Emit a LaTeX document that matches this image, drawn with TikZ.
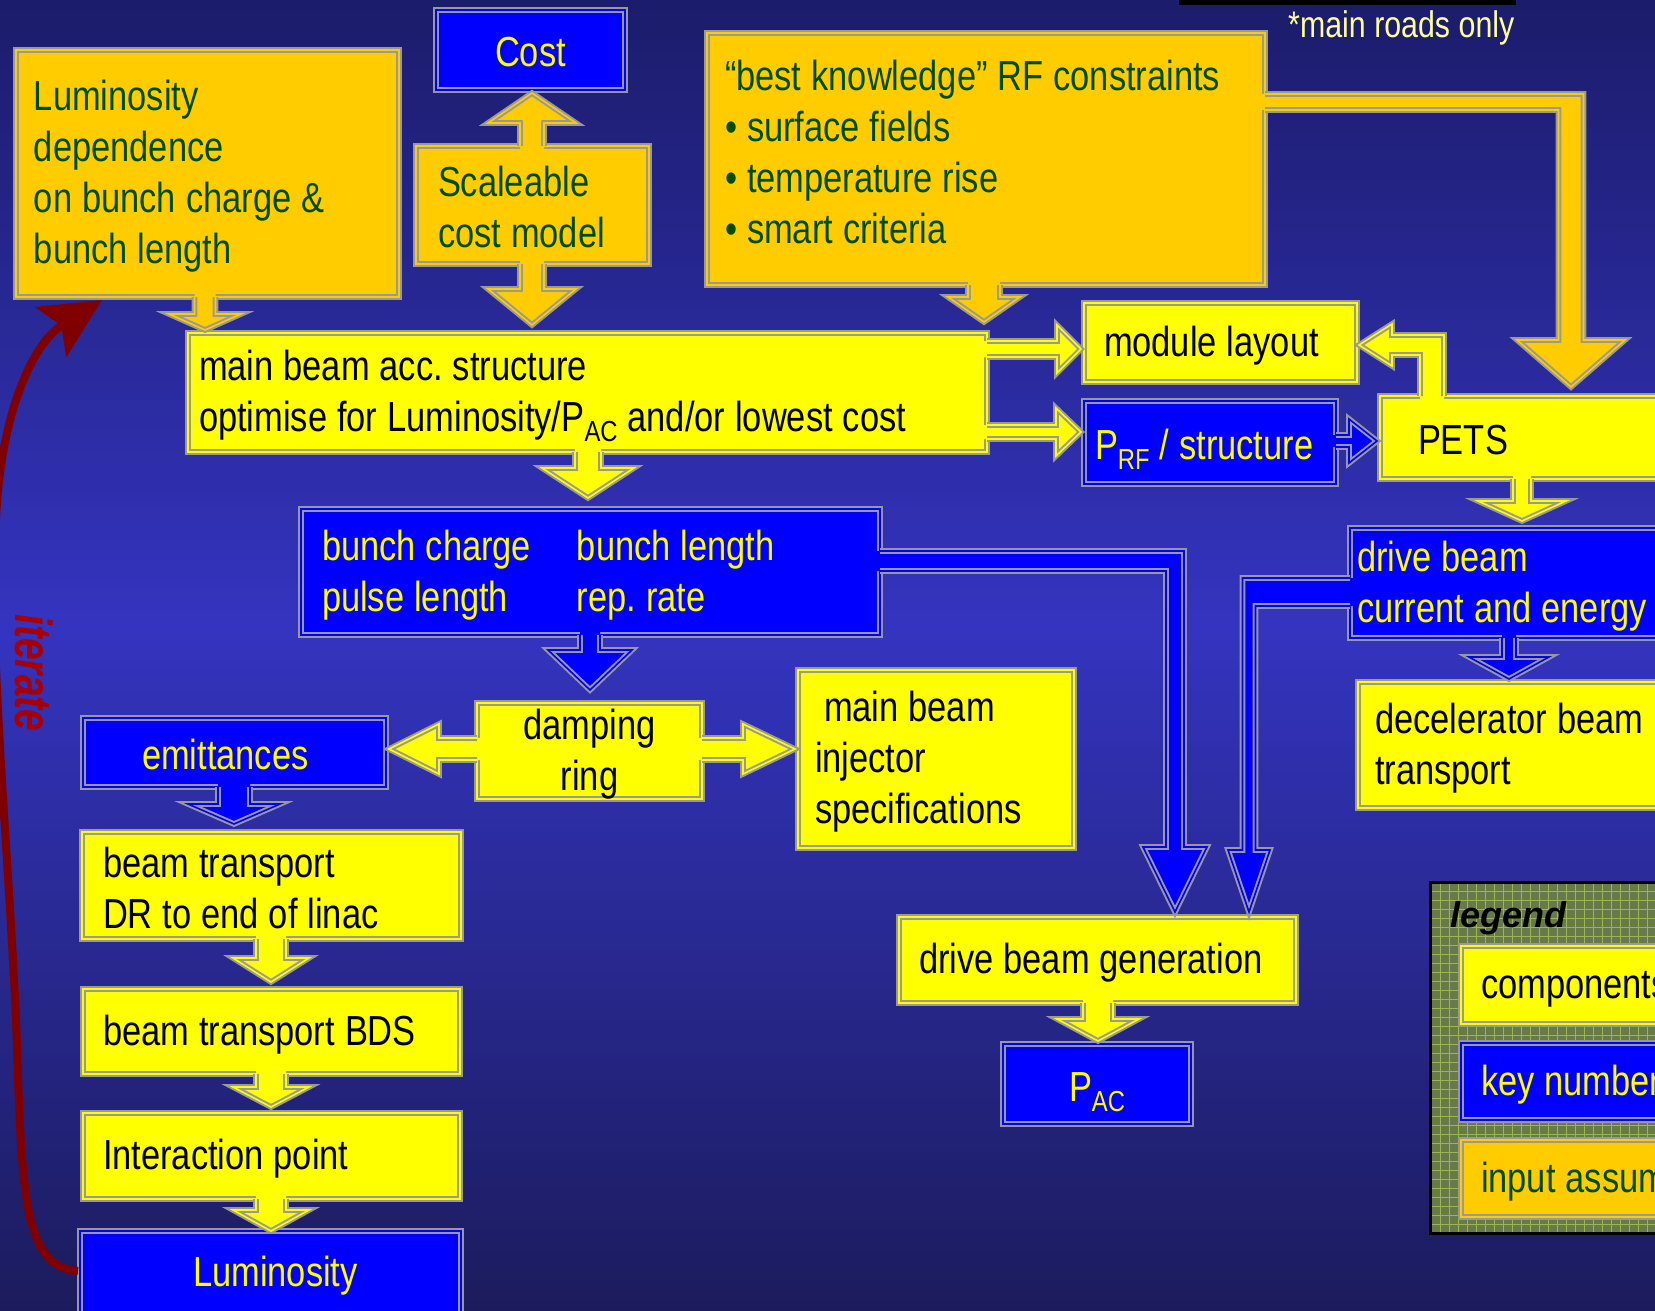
\documentclass[tikz,border=0pt]{standalone}
\usepackage{graphicx}
\usepackage{fontspec}
\setmainfont{Liberation Sans}[FakeStretch=0.82]
\newfontfamily\plainsans{Liberation Sans}
\usetikzlibrary{calc,arrows.meta}
\frenchspacing
\definecolor{cYe}{HTML}{FFFF00}
\definecolor{cBl}{HTML}{0000FF}
\definecolor{cOr}{HTML}{FFCC00}
\definecolor{cGr}{HTML}{999999}
\definecolor{cTxG}{HTML}{004D00}
\definecolor{bgTop}{HTML}{1C1C6C}
\definecolor{bgMid}{HTML}{3434C0}
\definecolor{bgBot}{HTML}{1B1B5C}
\definecolor{cIter}{HTML}{800000}
\definecolor{cIterT}{HTML}{A80000}
\definecolor{cNote}{HTML}{FFFF99}
\definecolor{cLegBg}{HTML}{687A48}
\definecolor{cLegGrid}{HTML}{9DB552}
\newcommand\boxfont{\fontsize{42}{51}\selectfont}
\newcommand\notefont{\fontsize{37}{37}\selectfont}
\newcommand\mystrut{\spaceskip=10pt\relax\xspaceskip=10pt\relax\rule[-2pt]{0pt}{38pt}}
\newcommand\lowsub[1]{\raisebox{-10pt}[\height][0pt]{\fontsize{29}{29}\selectfont #1}}
\tikzset{
  box/.style={draw=cGr, line width=2pt, double=#1, double distance=1.6pt, fill=#1,
    anchor=north west, inner ysep=0pt, outer sep=0pt, font=\boxfont},
  ybox/.style={box=cYe, text=black},
  bbox/.style={box=cBl, text=cYe},
  obox/.style={box=cOr, text=cTxG},
  aline/.style={draw=cGr, line width=2pt, double=#1, double distance=1.6pt, line join=miter, miter limit=10},
}
% down arrow: fill, source, target, shaft half width, head half width, head length
\newcommand\ArD[6]{%
  \fill[#1] let \p1=(#2), \p2=(#3) in (\x1-#4,\y1+4pt) -- (\x1-#4,\y2+3pt+#6) -- (\x1-#5,\y2+3pt+#6) -- (\x1,\y2+3pt) -- (\x1+#5,\y2+3pt+#6) -- (\x1+#4,\y2+3pt+#6) -- (\x1+#4,\y1+4pt) -- cycle;
  \draw[aline=#1] let \p1=(#2), \p2=(#3) in (\x1-#4,\y1) -- (\x1-#4,\y2+3pt+#6) -- (\x1-#5,\y2+3pt+#6) -- (\x1,\y2+3pt) -- (\x1+#5,\y2+3pt+#6) -- (\x1+#4,\y2+3pt+#6) -- (\x1+#4,\y1);}
\newcommand\ArU[6]{%
  \fill[#1] let \p1=(#2), \p2=(#3) in (\x1-#4,\y1-4pt) -- (\x1-#4,\y2-3pt-#6) -- (\x1-#5,\y2-3pt-#6) -- (\x1,\y2-3pt) -- (\x1+#5,\y2-3pt-#6) -- (\x1+#4,\y2-3pt-#6) -- (\x1+#4,\y1-4pt) -- cycle;
  \draw[aline=#1] let \p1=(#2), \p2=(#3) in (\x1-#4,\y1) -- (\x1-#4,\y2-3pt-#6) -- (\x1-#5,\y2-3pt-#6) -- (\x1,\y2-3pt) -- (\x1+#5,\y2-3pt-#6) -- (\x1+#4,\y2-3pt-#6) -- (\x1+#4,\y1);}
\newcommand\ArR[6]{%
  \fill[#1] let \p1=(#2), \p2=(#3) in (\x1-4pt,\y1+#4) -- (\x2-3pt-#6,\y1+#4) -- (\x2-3pt-#6,\y1+#5) -- (\x2-3pt,\y1) -- (\x2-3pt-#6,\y1-#5) -- (\x2-3pt-#6,\y1-#4) -- (\x1-4pt,\y1-#4) -- cycle;
  \draw[aline=#1] let \p1=(#2), \p2=(#3) in (\x1,\y1+#4) -- (\x2-3pt-#6,\y1+#4) -- (\x2-3pt-#6,\y1+#5) -- (\x2-3pt,\y1) -- (\x2-3pt-#6,\y1-#5) -- (\x2-3pt-#6,\y1-#4) -- (\x1,\y1-#4);}
\newcommand\ArL[6]{%
  \fill[#1] let \p1=(#2), \p2=(#3) in (\x1+4pt,\y1+#4) -- (\x2+3pt+#6,\y1+#4) -- (\x2+3pt+#6,\y1+#5) -- (\x2+3pt,\y1) -- (\x2+3pt+#6,\y1-#5) -- (\x2+3pt+#6,\y1-#4) -- (\x1+4pt,\y1-#4) -- cycle;
  \draw[aline=#1] let \p1=(#2), \p2=(#3) in (\x1,\y1+#4) -- (\x2+3pt+#6,\y1+#4) -- (\x2+3pt+#6,\y1+#5) -- (\x2+3pt,\y1) -- (\x2+3pt+#6,\y1-#5) -- (\x2+3pt+#6,\y1-#4) -- (\x1,\y1-#4);}
\begin{document}
\begin{tikzpicture}[x=1pt,y=-1pt]
\useasboundingbox (0,0) rectangle (1655,1311);
\clip (0,0) rectangle (1655,1311);
% background gradient (dark - bright - dark)
\foreach \i in {0,...,62} {
  \pgfmathtruncatemacro\pp{round(100*\i/62)}
  \fill[bgMid!\pp!bgTop] (0,{\i*10}) rectangle (1655,{\i*10+11});
}
\foreach \i in {63,...,131} {
  \pgfmathtruncatemacro\pp{round(100*(\i-62)/69)}
  \fill[bgBot!\pp!bgMid] (0,{\i*10}) rectangle (1655,{\i*10+11});
}
\fill[black] (1179,0) rectangle (1516,5);
\node[anchor=base west, text=cNote, font=\notefont, inner sep=0pt] (note) at (1288,38) {\spaceskip=8.5pt\relax *main roads only};

% boxes
\node[obox, minimum width=383pt, minimum height=247pt, text width=347pt, inner xsep=18pt, align=left] (lum) at (16,50)
  {\mystrut Luminosity\\\mystrut dependence\\\mystrut on bunch charge \&\\\mystrut bunch length};
\node[bbox, minimum width=189pt, minimum height=80pt, align=center] (cost) at (436,10) {\mystrut Cost};
\node[obox, minimum width=233pt, minimum height=118pt, text width=189pt, inner xsep=22pt, align=left] (scal) at (416,146)
  {\mystrut Scaleable\\\mystrut cost model};
\node[obox, minimum width=558pt, minimum height=252pt, text width=522pt, inner xsep=18pt, align=left] (rf) at (707,33)
  {\mystrut “best knowledge” RF constraints\\\mystrut • surface fields\\\mystrut • temperature rise\\\mystrut • smart criteria\rule[-20pt]{0pt}{1pt}};
\node[ybox, minimum width=799pt, minimum height=119pt, text width=777pt, inner xsep=11pt, align=left] (main) at (188,333)
  {\mystrut main beam acc. structure\\\mystrut optimise for Luminosity/P\lowsub{AC} and/or lowest cost};
\node[ybox, minimum width=273pt, minimum height=79pt, text width=233pt, inner xsep=20pt, align=left] (module) at (1084,303)
  {\mystrut module layout};
\node[bbox, minimum width=252pt, minimum height=83pt, text width=230pt, inner xsep=11pt, align=left] (prf) at (1084,401)
  {\mystrut P\lowsub{RF} / structure};
\node[ybox, minimum width=340pt, minimum height=83pt, text width=264pt, inner xsep=38pt, align=left] (pets) at (1380,396)
  {\mystrut PETS};
\node[bbox, minimum width=579pt, minimum height=126pt, text width=537pt, inner xsep=21pt, align=left] (bunch) at (301,509)
  {\mystrut\makebox[255pt][l]{bunch charge}bunch length\\\mystrut\makebox[255pt][l]{pulse length}rep. rate};
\node[bbox, minimum width=370pt, minimum height=110pt, text width=356pt, inner xsep=7pt, align=left] (drive) at (1350,528)
  {\mystrut drive beam\\\mystrut current and energy};
\node[ybox, minimum width=362pt, minimum height=126pt, text width=328pt, inner xsep=17pt, align=left] (decel) at (1358,682)
  {\mystrut decelerator beam\\\mystrut transport};
\node[ybox, minimum width=225pt, minimum height=94pt, align=center] (damp) at (477,703)
  {\mystrut damping\\\mystrut ring};
\node[bbox, minimum width=303pt, minimum height=69pt, text width=185pt, inner xsep=59pt, align=left] (emit) at (83,718)
  {\mystrut emittances};
\node[ybox, minimum width=276pt, minimum height=178pt, text width=242pt, inner xsep=17pt, align=left] (inj) at (798,670)
  {\mystrut\hspace*{9pt}main beam\\\mystrut injector\\\mystrut specifications};
\node[ybox, minimum width=379pt, minimum height=107pt, text width=337pt, inner xsep=21pt, align=left] (bt1) at (82,832)
  {\mystrut beam transport\\\mystrut DR to end of linac};
\node[ybox, minimum width=377pt, minimum height=85pt, text width=337pt, inner xsep=20pt, align=left] (bds) at (83,989)
  {\mystrut beam transport BDS};
\node[ybox, minimum width=377pt, minimum height=86pt, text width=337pt, inner xsep=20pt, align=left] (ip) at (83,1113)
  {\mystrut Interaction point};
\node[bbox, minimum width=381pt, minimum height=84pt, align=center] (lumi) at (80,1231)
  {\mystrut\hspace*{10pt}Luminosity};
\node[ybox, minimum width=397pt, minimum height=86pt, text width=357pt, inner xsep=20pt, align=left] (gen) at (899,917)
  {\mystrut drive beam generation};
\node[bbox, minimum width=188pt, minimum height=80pt, align=center] (pac) at (1003,1044)
  {\mystrut P\lowsub{AC}};

% legend
\node[fill=cLegBg, minimum width=290pt, minimum height=351pt, anchor=north west, outer sep=0pt, inner sep=0pt] (legend) at (1430,882) {};
\draw[cLegGrid, line width=0.8pt, step=9pt] (legend.north west) grid (legend.south east);
\draw[black, line width=3pt] (legend.north west) rectangle (legend.south east);
\node[anchor=base west, inner sep=0pt, font={\plainsans\fontsize{36}{36}\selectfont\bfseries\itshape}] (legT) at (1450,927) {legend};
\node[ybox, minimum width=259pt, minimum height=78pt, text width=300pt, inner xsep=20pt, align=left] (comp) at (1461,946)
  {\mystrut components};
\node[bbox, minimum width=259pt, minimum height=77pt, text width=300pt, inner xsep=20pt, align=left] (key) at (1461,1043)
  {\mystrut key numbers};
\node[obox, minimum width=259pt, minimum height=77pt, text width=300pt, inner xsep=20pt, align=left] (inp) at (1461,1140)
  {\mystrut input assumptions};

% straight block arrows
\ArD{cOr}{$(lum.south west)+(189,0)$}{main.north}{10.5pt}{36pt}{16pt}
\ArU{cOr}{$(scal.north west)+(116,0)$}{cost.south}{12pt}{44pt}{30pt}
\ArD{cOr}{$(scal.south west)+(116,0)$}{$(main.north)+(0,-5)$}{12pt}{44pt}{36pt}
\ArD{cOr}{$(rf.south west)+(277,0)$}{$(main.north)+(0,-8)$}{16pt}{36pt}{25pt}
\ArD{cYe}{$(main.south west)+(400,0)$}{$(bunch.north)+(0,-8)$}{13pt}{46pt}{30pt}
\ArD{cBl}{$(bunch.south west)+(289,0)$}{$(damp.north)+(0,-10)$}{10pt}{42pt}{40pt}
\ArD{cYe}{$(pets.south west)+(142,0)$}{$(drive.north)+(0,-4)$}{9pt}{44pt}{20pt}
\ArD{cBl}{$(drive.south west)+(159,0)$}{decel.north}{7pt}{40pt}{22pt}
\ArD{cBl}{$(emit.south west)+(151,0)$}{$(bt1.north)+(0,-5)$}{16pt}{46pt}{20pt}
\ArD{cYe}{$(bt1.south west)+(189,0)$}{$(bds.north)+(0,-4)$}{15pt}{38pt}{24pt}
\ArD{cYe}{$(bds.south west)+(188,0)$}{$(ip.north)+(0,-3)$}{15pt}{38pt}{20pt}
\ArD{cYe}{$(ip.south west)+(188,0)$}{$(lumi.north)+(0,3)$}{15pt}{38pt}{21pt}
\ArD{cYe}{$(gen.south west)+(199,0)$}{pac.north}{15pt}{41pt}{22pt}
\ArR{cYe}{$(main.north east)+(0,16)$}{module.west}{8pt}{24pt}{24pt}
\ArR{cYe}{$(main.north east)+(0,99)$}{prf.west}{7pt}{24pt}{25pt}
\ArR{cBl}{$(prf.north east)+(0,40)$}{pets.west}{6pt}{22pt}{28pt}
\ArL{cYe}{$(damp.north west)+(0,46)$}{emit.east}{11pt}{25pt}{50pt}
\ArR{cYe}{$(damp.north east)+(0,46)$}{inj.west}{11pt}{25pt}{52pt}

% elbow arrows
\fill[cOr] let \p1=($(rf.north east)+(0,69)$), \p2=($(pets.north west)+(191,0)$) in
  (\x1-4pt,\y1+8pt) -- (\x2+12.5pt,\y1+8pt) -- (\x2+12.5pt,\y2+56pt) -- (\x2+54pt,\y2+56pt) -- (\x2,\y2+9pt) -- (\x2-54pt,\y2+56pt) -- (\x2-12.5pt,\y2+56pt) -- (\x2-12.5pt,\y1-8pt) -- (\x1-4pt,\y1-8pt) -- cycle;
\draw[aline=cOr] let \p1=($(rf.north east)+(0,69)$), \p2=($(pets.north west)+(191,0)$) in
  (\x1,\y1+8pt) -- (\x2+12.5pt,\y1+8pt) -- (\x2+12.5pt,\y2+56pt) -- (\x2+54pt,\y2+56pt) -- (\x2,\y2+9pt) -- (\x2-54pt,\y2+56pt) -- (\x2-12.5pt,\y2+56pt) -- (\x2-12.5pt,\y1-8pt) -- (\x1,\y1-8pt);

\fill[cYe] let \p1=($(pets.north west)+(52,0)$), \p2=($(module.north east)+(0,42)$) in
  (\x1-12pt,\y1-4pt) -- (\x1-12pt,\y2-10pt) -- (\x2+35pt,\y2-10pt) -- (\x2+35pt,\y2-21pt) -- (\x2+2pt,\y2) -- (\x2+35pt,\y2+21pt) -- (\x2+35pt,\y2+10pt) -- (\x1+12pt,\y2+10pt) -- (\x1+12pt,\y1-4pt) -- cycle;
\draw[aline=cYe] let \p1=($(pets.north west)+(52,0)$), \p2=($(module.north east)+(0,42)$) in
  (\x1-12pt,\y1) -- (\x1-12pt,\y2-10pt) -- (\x2+35pt,\y2-10pt) -- (\x2+35pt,\y2-21pt) -- (\x2+2pt,\y2) -- (\x2+35pt,\y2+21pt) -- (\x2+35pt,\y2+10pt) -- (\x1+12pt,\y2+10pt) -- (\x1+12pt,\y1);

\fill[cBl] let \p1=($(bunch.north east)+(0,52)$), \p2=($(gen.north west)+(276,0)$) in
  (\x1-4pt,\y1+10pt) -- (\x2+9pt,\y1+10pt) -- (\x2+9pt,\y2+70pt) -- (\x2+32pt,\y2+70pt) -- (\x2,\y2+5pt) -- (\x2-32pt,\y2+70pt) -- (\x2-9pt,\y2+70pt) -- (\x2-9pt,\y1-10pt) -- (\x1-4pt,\y1-10pt) -- cycle;
\draw[aline=cBl] let \p1=($(bunch.north east)+(0,52)$), \p2=($(gen.north west)+(276,0)$) in
  (\x1,\y1+10pt) -- (\x2+9pt,\y1+10pt) -- (\x2+9pt,\y2+70pt) -- (\x2+32pt,\y2+70pt) -- (\x2,\y2+5pt) -- (\x2-32pt,\y2+70pt) -- (\x2-9pt,\y2+70pt) -- (\x2-9pt,\y1-10pt) -- (\x1,\y1-10pt);

\fill[cBl] let \p1=($(drive.north west)+(0,64)$), \p2=($(gen.north west)+(350,0)$) in
  (\x1+4pt,\y1+14pt) -- (\x2-6.5pt,\y1+14pt) -- (\x2-6.5pt,\y2+67pt) -- (\x2-21pt,\y2+67pt) -- (\x2,\y2+5pt) -- (\x2+21pt,\y2+67pt) -- (\x2+6.5pt,\y2+67pt) -- (\x2+6.5pt,\y1-14pt) -- (\x1+4pt,\y1-14pt) -- cycle;
\draw[aline=cBl] let \p1=($(drive.north west)+(0,64)$), \p2=($(gen.north west)+(350,0)$) in
  (\x1,\y1+14pt) -- (\x2-6.5pt,\y1+14pt) -- (\x2-6.5pt,\y2+67pt) -- (\x2-21pt,\y2+67pt) -- (\x2,\y2+5pt) -- (\x2+21pt,\y2+67pt) -- (\x2+6.5pt,\y2+67pt) -- (\x2+6.5pt,\y1-14pt) -- (\x1,\y1-14pt);

% iterate loop
\draw[cIter, line width=8pt, -{Stealth[length=60pt, width=58pt, inset=12pt]}]
  ($(lumi.north west)+(-2,40)$) .. controls (20,1268) and (22,1180) .. (16,1020)
  .. controls (8,840) and (-12,640) .. (-4,520)
  .. controls (0,420) and (30,345) .. ($(lum.south west)+(86,3)$);
\node[rotate=-90, text=cIterT, inner sep=0pt, font={\plainsans\bfseries\itshape\fontsize{52}{52}\selectfont}] (iterT) at (34,673)
  {\scalebox{0.75}[1]{iterate}};
\end{tikzpicture}
\end{document}
